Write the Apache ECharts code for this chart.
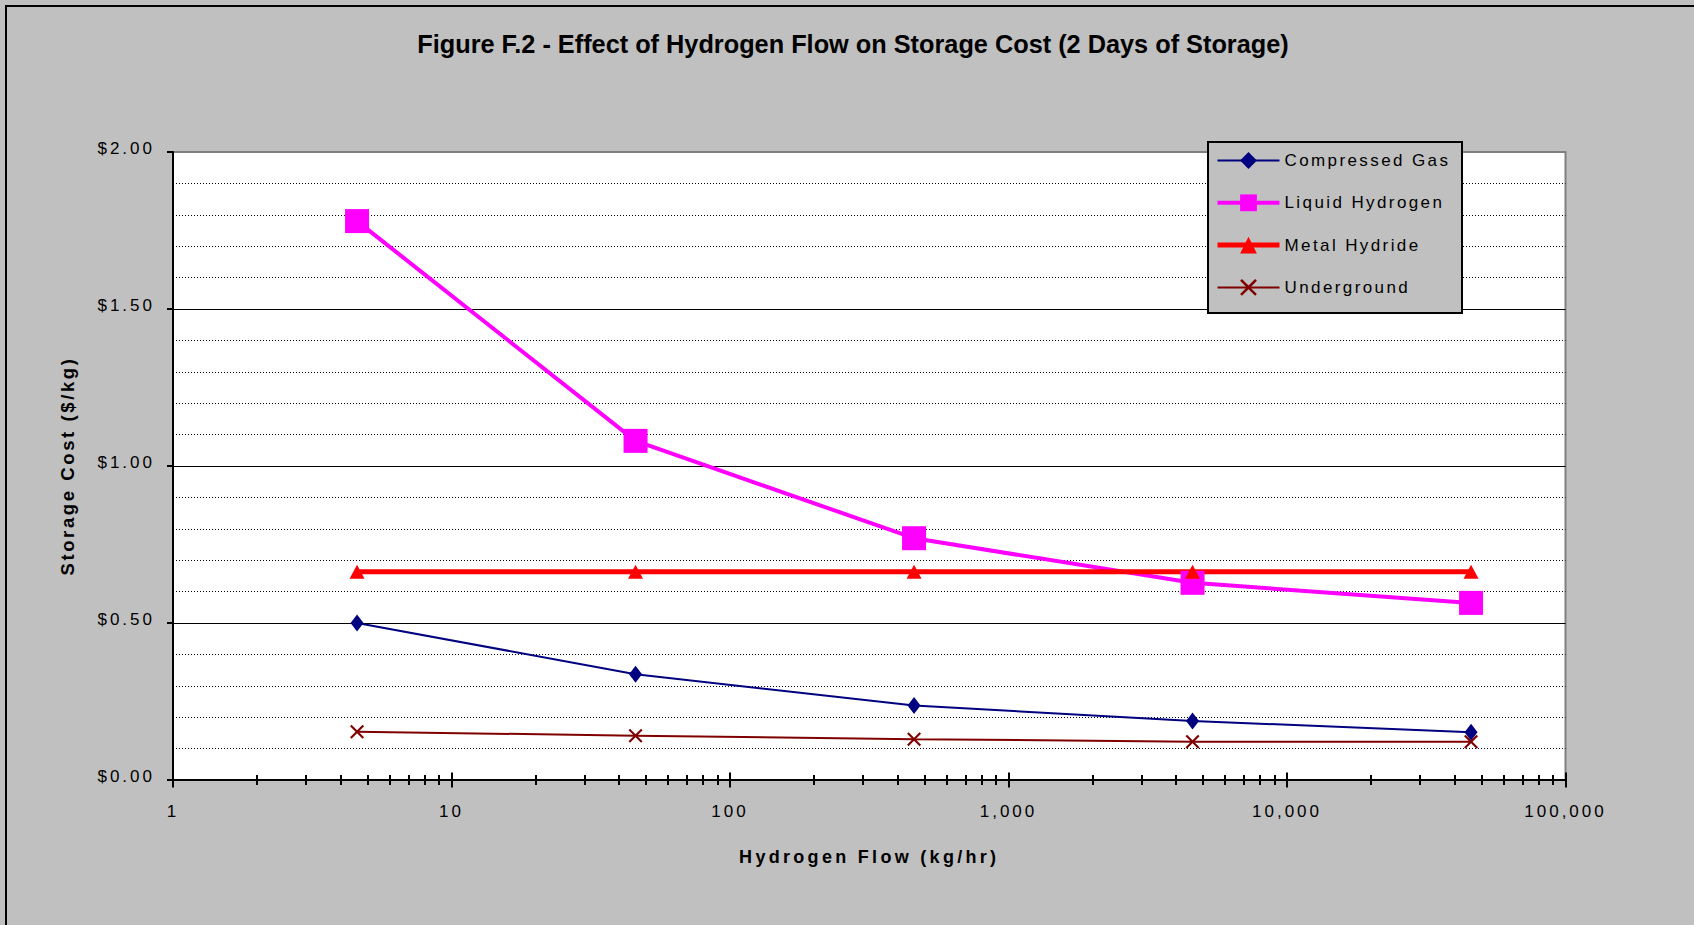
<!DOCTYPE html>
<html>
<head>
<meta charset="utf-8">
<script src="https://cdn.jsdelivr.net/npm/echarts@6/dist/echarts.min.js"></script>
<style>
html,body{margin:0;padding:0;background:#C0C0C0;}
#chart{width:1694px;height:925px;}
</style>
</head>
<body>
<div id="chart"></div>
<script>
// ---- data ----
const TITLE = 'Figure F.2 - Effect of Hydrogen Flow on Storage Cost (2 Days of Storage)';
const X_NAME = 'Hydrogen Flow (kg/hr)';
const Y_NAME = 'Storage Cost ($/kg)';
const SERIES_NAMES = ['Compressed Gas', 'Liquid Hydrogen', 'Metal Hydride', 'Underground'];
const flows = [4.58, 45.8, 458, 4580, 45800];
const compressedGas = [0.50, 0.337, 0.237, 0.188, 0.152];
const liquidHydrogen = [1.78, 1.08, 0.77, 0.628, 0.564];
const metalHydride = [0.663, 0.663, 0.663, 0.663, 0.663];
const underground = [0.154, 0.141, 0.130, 0.122, 0.122];
const xMajorTicks = [1, 10, 100, 1000, 10000, 100000];
const xMinorMultipliers = [2, 3, 4, 5, 6, 7, 8, 9];
const yMin = 0, yMax = 2, yInterval = 0.5;

const xAllTicks = [];
xMajorTicks.forEach((d, i) => {
  xAllTicks.push(d);
  if (i < xMajorTicks.length - 1) xMinorMultipliers.forEach(m => xAllTicks.push(m * d));
});

const FONT = '"Liberation Sans", Arial, Helvetica, sans-serif';
const pts = arr => flows.map((f, i) => [f, arr[i]]);
const X_MARK = 'path://M1.5,0 L7,5.5 L12.5,0 L14,1.5 L8.5,7 L14,12.5 L12.5,14 L7,8.5 L1.5,14 L0,12.5 L5.5,7 L0,1.5 Z';

const COLORS = ['#000080', '#FF00FF', '#FF0000', '#800000'];
const LINE_WIDTHS = [2, 4, 5, 2];

const chart = echarts.init(document.getElementById('chart'), null, {renderer: 'svg'});

const tickStyle = {color: '#000', width: 2};
const baseX = {
  type: 'log', logBase: 10, min: 1, max: 100000, gridIndex: 0, position: 'bottom',
  splitLine: {show: false}, silent: true
};

const option = {
  animation: false,
  backgroundColor: '#C0C0C0',
  title: {
    text: TITLE, left: 853, top: 31, textAlign: 'center', padding: 0,
    textStyle: {fontFamily: FONT, fontSize: 25.3, fontWeight: 'bold', color: '#000'}
  },
  graphic: [
    {type: 'rect', z: 1, silent: true, shape: {x: 6, y: 6, width: 1800, height: 1000},
     style: {fill: 'none', stroke: '#000', lineWidth: 2}},
    {type: 'rect', z: 3, silent: true, shape: {x: 1208, y: 142, width: 254, height: 171},
     style: {fill: '#C0C0C0', stroke: '#000', lineWidth: 2}}
  ],
  legend: {
    orient: 'vertical', left: 1215, top: 152, padding: 0,
    itemWidth: 62, itemHeight: 21, itemGap: 25.3,
    selectedMode: false,
    textStyle: {fontFamily: FONT, fontSize: 17, color: '#000'},
    data: SERIES_NAMES.map((n, i) => ({name: n, lineStyle: {width: LINE_WIDTHS[i], color: COLORS[i]}}))
  },
  grid: {
    left: 173, right: 128.5, top: 152, bottom: 145,
    show: true, backgroundColor: '#FFFFFF', borderColor: '#808080', borderWidth: 2,
    containLabel: false
  },
  xAxis: [
    Object.assign({}, baseX, {
      axisLine: {show: true, lineStyle: {color: '#000', width: 2}},
      axisTick: {show: true, inside: false, length: 5, customValues: xAllTicks, lineStyle: tickStyle},
      axisLabel: {show: true, margin: 23, fontFamily: FONT, fontSize: 17, color: '#000',
        formatter: v => Math.round(v).toLocaleString('en-US')},
      name: X_NAME, nameLocation: 'middle', nameGap: 68,
      nameTextStyle: {fontFamily: FONT, fontSize: 18, fontWeight: 'bold', color: '#000'}
    }),
    Object.assign({}, baseX, {
      axisLine: {show: false}, axisLabel: {show: false},
      axisTick: {show: true, inside: true, length: 5, customValues: xAllTicks, lineStyle: tickStyle}
    }),
    Object.assign({}, baseX, {
      axisLine: {show: false}, axisLabel: {show: false},
      axisTick: {show: true, inside: false, length: 7.5, customValues: xMajorTicks, lineStyle: tickStyle}
    }),
    Object.assign({}, baseX, {
      axisLine: {show: false}, axisLabel: {show: false},
      axisTick: {show: true, inside: true, length: 7.5, customValues: xMajorTicks, lineStyle: tickStyle}
    })
  ],
  yAxis: {
    type: 'value', min: yMin, max: yMax, interval: yInterval, silent: true,
    axisLine: {show: true, lineStyle: {color: '#000', width: 2}},
    axisTick: {show: true, inside: false, length: 6, lineStyle: tickStyle},
    axisLabel: {margin: 18, fontFamily: FONT, fontSize: 17, color: '#000',
      verticalAlign: 'bottom', lineHeight: 7,
      formatter: v => '$' + v.toFixed(2)},
    splitLine: {show: true, lineStyle: {color: ['#000', '#000', '#000', '#000', '#808080'], width: 1}},
    minorTick: {show: false, splitNumber: 5},
    minorSplitLine: {show: true, lineStyle: {color: '#000', width: 1, type: [1, 2]}},
    name: Y_NAME, nameLocation: 'middle', nameGap: 96,
    nameTextStyle: {fontFamily: FONT, fontSize: 18.5, fontWeight: 'bold', color: '#000'}
  },
  series: [
    {name: SERIES_NAMES[0], type: 'line', xAxisIndex: 0, data: pts(compressedGas), silent: true,
     symbol: 'diamond', symbolSize: [13, 17],
     lineStyle: {color: COLORS[0], width: LINE_WIDTHS[0]}, itemStyle: {color: COLORS[0]}},
    {name: SERIES_NAMES[1], type: 'line', xAxisIndex: 0, data: pts(liquidHydrogen), silent: true,
     symbol: 'rect', symbolSize: 24,
     lineStyle: {color: COLORS[1], width: LINE_WIDTHS[1]}, itemStyle: {color: COLORS[1]}},
    {name: SERIES_NAMES[2], type: 'line', xAxisIndex: 0, data: pts(metalHydride), silent: true,
     symbol: 'triangle', symbolSize: [15, 14],
     lineStyle: {color: COLORS[2], width: LINE_WIDTHS[2]}, itemStyle: {color: COLORS[2]}},
    {name: SERIES_NAMES[3], type: 'line', xAxisIndex: 0, data: pts(underground), silent: true,
     symbol: X_MARK, symbolSize: 14,
     lineStyle: {color: COLORS[3], width: LINE_WIDTHS[3]}, itemStyle: {color: COLORS[3]}}
  ]
};

chart.setOption(option);

function spacingFor(s) {
  if (s === TITLE) return null;
  if (SERIES_NAMES.indexOf(s) >= 0) return '2.4px';
  if (s === X_NAME) return '3.3px';
  if (s === Y_NAME) return '2.6px';
  return '3px';
}
function applySpacing() {
  document.querySelectorAll('#chart text').forEach(t => {
    const ls = spacingFor(t.textContent);
    if (ls && t.style.letterSpacing !== ls) t.style.letterSpacing = ls;
  });
}
chart.on('finished', applySpacing);
new MutationObserver(applySpacing).observe(document.getElementById('chart'),
  {childList: true, subtree: true, attributes: true, characterData: true});
applySpacing();
setTimeout(applySpacing, 50);
</script>
</body>
</html>
